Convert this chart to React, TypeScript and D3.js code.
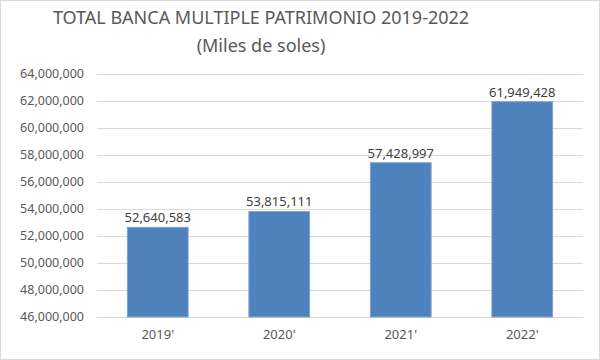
import { scaleBand, scaleLinear, format } from "d3";

const years = ["2019'", "2020'", "2021'", "2022'"];
const patrimonio = [52640583, 53815111, 57428997, 61949428];
const yTicks = [46000000, 48000000, 50000000, 52000000, 54000000, 56000000, 58000000, 60000000, 62000000, 64000000];

const W = 600;
const H = 360;
const font = "'Noto Sans', 'Open Sans', sans-serif";

export default function App() {
  const x = scaleBand().domain(years).range([97, 583]).paddingInner(0.5).paddingOuter(0.25);
  const y = scaleLinear().domain([46000000, 64000000]).range([317, 74]);
  const fmt = format(",");

  return (
    <svg width={W} height={H} style={{ display: "block", position: "absolute", left: 0, top: 0 }}>
      <rect x={0.5} y={0.5} width={W - 1} height={H - 1} fill="#fff" stroke="#d9d9d9" />
      <text x={261} y={24} textAnchor="middle" fontFamily={font} fontSize={18} fill="#595959">
        TOTAL BANCA MULTIPLE PATRIMONIO 2019-2022
      </text>
      <text x={261} y={52} textAnchor="middle" fontFamily={font} fontSize={18} fill="#595959">
        (Miles de soles)
      </text>
      {yTicks.map((t) => (
        <g key={t}>
          <line x1={97} x2={583} y1={Math.round(y(t)) + 0.5} y2={Math.round(y(t)) + 0.5} stroke="#d9d9d9" />
          <text x={84} y={y(t)} dy="0.35em" textAnchor="end" fontFamily={font} fontSize={12.5} fill="#595959">
            {fmt(t)}
          </text>
        </g>
      ))}
      {years.map((yr, i) => (
        <g key={yr}>
          <rect
            x={x(yr)!}
            y={y(patrimonio[i])}
            width={x.bandwidth()}
            height={y(46000000) - y(patrimonio[i])}
            fill="#4f81bd"
            stroke="#7ea2d3"
            strokeWidth={1}
          />
          <text
            x={x(yr)! + x.bandwidth() / 2}
            y={y(patrimonio[i]) - 5}
            textAnchor="middle"
            fontFamily={font}
            fontSize={13}
            fill="#404040"
          >
            {fmt(patrimonio[i])}
          </text>
          <text
            x={x(yr)! + x.bandwidth() / 2}
            y={339}
            textAnchor="middle"
            fontFamily={font}
            fontSize={13}
            fill="#595959"
          >
            {yr}
          </text>
        </g>
      ))}
    </svg>
  );
}
